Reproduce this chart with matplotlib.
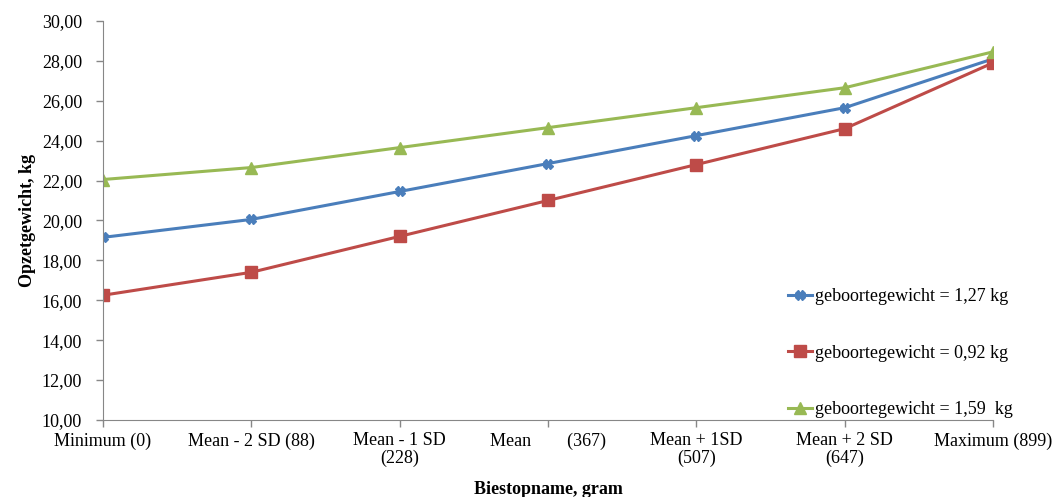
import matplotlib.pyplot as plt

categories = ["Minimum (0)", "Mean - 2 SD (88)", "Mean - 1 SD\n(228)", "Mean        (367)",
              "Mean + 1SD\n(507)", "Mean + 2 SD\n(647)", "Maximum (899)"]
gewicht_127 = [19.15, 20.05, 21.45, 22.85, 24.25, 25.65, 28.10]
gewicht_092 = [16.25, 17.40, 19.20, 21.00, 22.80, 24.60, 27.90]
gewicht_159 = [22.05, 22.65, 23.65, 24.65, 25.65, 26.65, 28.45]
labels = ["geboortegewicht = 1,27 kg", "geboortegewicht = 0,92 kg", "geboortegewicht = 1,59  kg"]

plt.rcParams['font.family'] = ['Liberation Serif', 'DejaVu Serif']
plt.rcParams['font.size'] = 13

fig = plt.figure(figsize=(10.56, 4.97), dpi=100)
ax = fig.add_axes([0.0975, 0.155, 0.843, 0.803])

x = range(len(categories))
ax.plot(x, gewicht_127, color='#4A7EBB', lw=2.2, marker='X', ms=7, label=labels[0])
ax.plot(x, gewicht_092, color='#BE4B48', lw=2.2, marker='s', ms=8, label=labels[1])
ax.plot(x, gewicht_159, color='#98B954', lw=2.2, marker='^', ms=9, label=labels[2])

ax.set_xlim(0, 6)
ax.set_ylim(10, 30)
ax.set_yticks(range(10, 31, 2))
ax.set_yticklabels([f"{v},00" for v in range(10, 31, 2)])
ax.set_xticks(list(x))
ax.set_xticklabels(categories, linespacing=1.05)
for sp in ['top', 'right']:
    ax.spines[sp].set_visible(False)
for sp in ['left', 'bottom']:
    ax.spines[sp].set_color('#878787')
ax.tick_params(axis='both', color='#878787', length=5, width=1)
ax.tick_params(axis='x', pad=4)
ax.tick_params(axis='y', pad=10)

ax.set_ylabel("Opzetgewicht, kg", fontweight='bold', labelpad=4)
ax.set_xlabel("Biestopname, gram", fontweight='bold', labelpad=10)

ax.legend(loc='lower left', bbox_to_anchor=(0.746, 0.158), bbox_transform=fig.transFigure,
          frameon=False, labelspacing=2.2, handlelength=1.35, handletextpad=0.17,
          borderpad=0, borderaxespad=0)

fig.savefig("out.png", dpi=100)
